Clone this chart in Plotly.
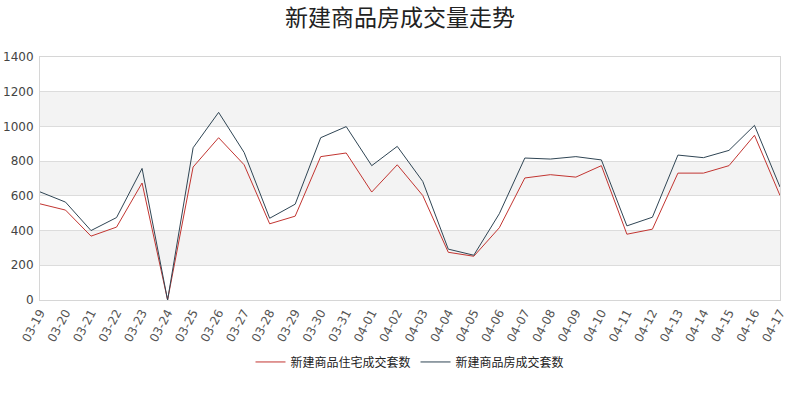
import plotly.graph_objects as go

dates = ["03-19","03-20","03-21","03-22","03-23","03-24","03-25","03-26","03-27","03-28",
         "03-29","03-30","03-31","04-01","04-02","04-03","04-04","04-05","04-06","04-07",
         "04-08","04-09","04-10","04-11","04-12","04-13","04-14","04-15","04-16","04-17"]
residential = [554,518,368,420,674,0,766,935,779,439,
               483,826,847,622,779,602,275,252,416,703,
               722,708,774,379,408,731,731,774,949,602]
total = [623,564,400,475,758,0,877,1081,850,471,
         552,935,999,774,885,683,293,258,497,818,
         812,826,807,427,477,835,820,862,1006,651]
yticks = [0,200,400,600,800,1000,1200,1400]
bands = [(200,400),(600,800),(1000,1200)]

fig = go.Figure()
fig.add_trace(go.Scatter(x=dates, y=residential, mode="lines", name="新建商品住宅成交套数",
                         line=dict(color="#c23531", width=1)))
fig.add_trace(go.Scatter(x=dates, y=total, mode="lines", name="新建商品房成交套数",
                         line=dict(color="#2f4554", width=1)))

for lo, hi in bands:
    fig.add_shape(type="rect", xref="paper", yref="y", x0=0, x1=1, y0=lo, y1=hi,
                  fillcolor="#f3f3f3", line_width=0, layer="below")

fig.update_layout(
    width=800, height=400,
    margin=dict(l=40, r=20, t=57, b=100, autoexpand=False),
    paper_bgcolor="white", plot_bgcolor="white",
    font=dict(family="Noto Sans CJK SC, sans-serif", color="#333"),
    title=dict(text="新建商品房成交量走势", x=0.5, xanchor="center", y=0.955, yanchor="middle",
               font=dict(size=23, color="#222")),
    legend=dict(orientation="h", x=0.5, xanchor="center", y=-0.255, yanchor="middle",
                font=dict(size=12, color="#222"), itemwidth=30),
    showlegend=True,
)
fig.update_xaxes(type="category", range=[0, len(dates)-1], tickangle=-62, automargin=False,
                 tickfont=dict(size=12, color="#555", family="DejaVu Sans, sans-serif"),
                 showgrid=False, showline=True, linecolor="#d6d6d6", mirror=True, ticks="")
fig.update_yaxes(range=[0, 1400], tickvals=yticks, automargin=False, ticklabelstandoff=3,
                 tickfont=dict(size=12, color="#444", family="DejaVu Sans, sans-serif"),
                 showgrid=True, gridcolor="#dcdcdc", gridwidth=1, zeroline=False,
                 showline=True, linecolor="#d6d6d6", mirror=True, ticks="")

fig.write_html("out.html", config={"displayModeBar": False},
               post_script="document.body.style.margin='0';document.body.style.padding='0';")
